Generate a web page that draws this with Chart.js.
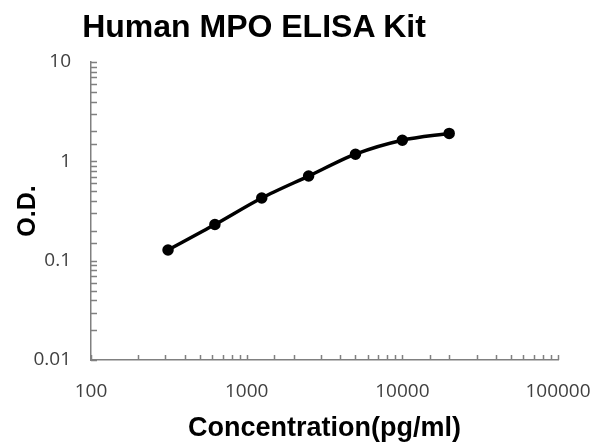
<!DOCTYPE html>
<html>
<head>
<meta charset="utf-8">
<script src="https://cdn.jsdelivr.net/npm/chart.js@4.4.1/dist/chart.umd.min.js"></script>
<style>
  body { margin: 0; background: #fff; }
  #wrap { position: relative; width: 600px; height: 447px; }
  #title {
    position: absolute; left: 0; top: 10px; width: 508px;
    text-align: center; font: bold 32px "Liberation Sans", Arial, sans-serif;
    line-height: 32px; color: #000;
  }
  canvas { position: absolute; left: 0; top: 0; }
</style>
</head>
<body>
<div id="wrap">
  <canvas id="c" width="600" height="447"></canvas>
  <div id="title">Human MPO ELISA Kit</div>
</div>
<script>
// standard curve
const concentrations = [312.5, 625, 1250, 2500, 5000, 10000, 20000];
const odValues = [0.128, 0.231, 0.428, 0.711, 1.18, 1.63, 1.91];

const xMin = 100, xMax = 100000;
const yMin = 0.01, yMax = 10;

const axisColor = '#808080';
const tickFont = { family: '"Open Sans", sans-serif', size: 19 };
const titleFont = { family: '"Liberation Sans", Arial, sans-serif', size: 25, weight: 'bold' };

// only label the powers of ten
function decadeLabel(value) {
  const l = Math.log10(value);
  return Math.abs(l - Math.round(l)) < 1e-9 ? String(value) : '';
}

// tick marks drawn inward from the axis lines
const innerTicks = {
  id: 'innerTicks',
  afterDraw(chart) {
    const { ctx, chartArea } = chart;
    const xs = chart.scales.x, ys = chart.scales.y;
    ctx.save();
    ctx.strokeStyle = axisColor;
    ctx.lineWidth = 1.5;
    ctx.beginPath();
    xs.ticks.forEach(t => {
      const px = Math.round(xs.getPixelForValue(t.value)) + 0.5;
      ctx.moveTo(px, chartArea.bottom);
      ctx.lineTo(px, chartArea.bottom - 5);
    });
    ys.ticks.forEach(t => {
      const py = Math.round(ys.getPixelForValue(t.value)) + 0.5;
      ctx.moveTo(chartArea.left, py);
      ctx.lineTo(chartArea.left + 6, py);
    });
    ctx.stroke();
    ctx.restore();
  }
};

new Chart(document.getElementById('c'), {
  type: 'line',
  data: {
    datasets: [{
      data: concentrations.map((c, i) => ({ x: c, y: odValues[i] })),
      borderColor: '#000',
      backgroundColor: '#000',
      borderWidth: 3.5,
      pointRadius: 4,
      pointHoverRadius: 4,
      tension: 0.3,
      fill: false
    }]
  },
  options: {
    responsive: false,
    animation: false,
    layout: { padding: { top: 62, right: 42, bottom: 0, left: 0 } },
    plugins: { legend: { display: false }, tooltip: { enabled: false } },
    scales: {
      x: {
        type: 'logarithmic', min: xMin, max: xMax,
        grid: { display: false, drawTicks: false },
        border: { display: true, color: axisColor, width: 1.5 },
        ticks: { autoSkip: false, maxRotation: 0, padding: 20, color: '#404040', font: tickFont, callback: decadeLabel },
        title: { display: true, text: 'Concentration(pg/ml)', color: '#000', font: { ...titleFont, size: 27 }, padding: { top: 0, bottom: 2 } },
        afterFit: s => { s.height = 87; s.paddingLeft = 0; s.paddingRight = 0; }
      },
      y: {
        type: 'logarithmic', min: yMin, max: yMax,
        grid: { display: false, drawTicks: false },
        border: { display: true, color: axisColor, width: 1.5 },
        ticks: { autoSkip: false, padding: 20, color: '#404040', font: tickFont, callback: decadeLabel },
        title: { display: true, text: 'O.D.', color: '#000', font: titleFont, padding: { top: 13, bottom: 0 } },
        afterFit: s => { s.width = 91; s.paddingTop = 0; s.paddingBottom = 0; }
      }
    }
  },
  plugins: [innerTicks]
});
</script>
</body>
</html>
